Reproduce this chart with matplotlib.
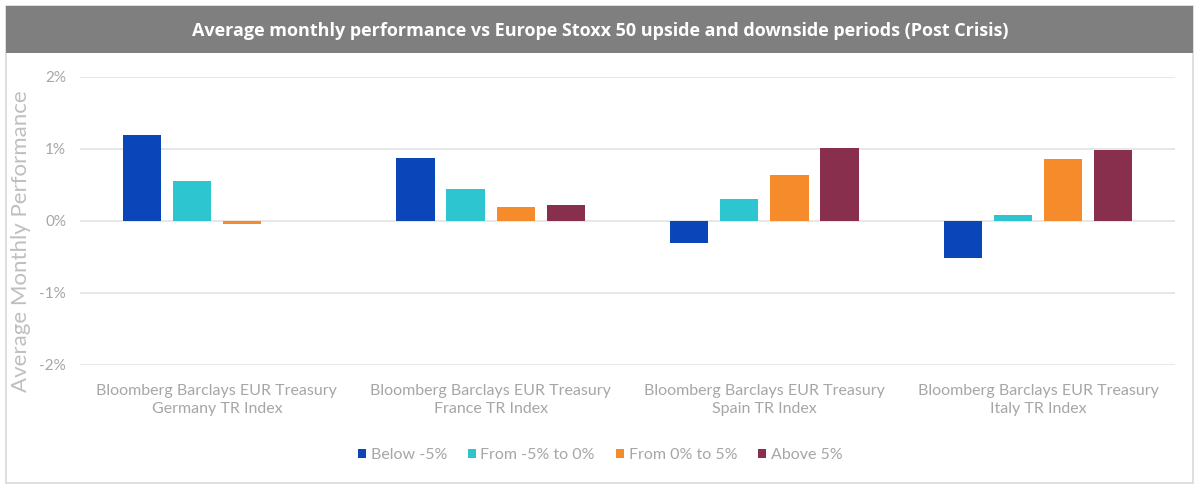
import matplotlib
matplotlib.use("Agg")
import matplotlib.pyplot as plt
import numpy as np
from matplotlib.patches import Rectangle

# datos
categorias = ["Bloomberg Barclays EUR Treasury\nGermany TR Index",
              "Bloomberg Barclays EUR Treasury\nFrance TR Index",
              "Bloomberg Barclays EUR Treasury\nSpain TR Index",
              "Bloomberg Barclays EUR Treasury\nItaly TR Index"]
series = ["Below -5%", "From -5% to 0%", "From 0% to 5%", "Above 5%"]
below_5 = [1.20, 0.88, -0.30, -0.51]
from_m5_0 = [0.55, 0.44, 0.30, 0.08]
from_0_5 = [-0.04, 0.20, 0.64, 0.86]
above_5 = [0.0, 0.22, 1.02, 0.98]
yticks = [-2, -1, 0, 1, 2]

colores = ["#0A46B9", "#2DC6D0", "#F68B2B", "#872F4C"]
gris = "#A6A6A6"

fig = plt.figure(figsize=(12, 4.92), dpi=100)

# marco exterior y barra de titulo
fig.patches.append(Rectangle((6/1200, 1-483/492), 1187/1200, 477/492, transform=fig.transFigure,
                             fill=False, edgecolor="#D9D9D9", linewidth=1.2))
fig.patches.append(Rectangle((6/1200, 1-53/492), 1187/1200, 47/492, transform=fig.transFigure,
                             facecolor="#7F7F7F", edgecolor="none"))
fig.text(0.5, 1-31/492, "Average monthly performance vs Europe Stoxx 50 upside and downside periods (Post Crisis)",
         ha="center", va="center", color="white", fontsize=13, fontweight="bold", family="Open Sans")

ax = fig.add_axes([80/1200, 1-365/492, 1095/1200, 288/492])

x = np.arange(len(categorias))
paso = 0.183
ancho = 0.14
for i, (nombre, valores) in enumerate(zip(series, [below_5, from_m5_0, from_0_5, above_5])):
    ax.bar(x + (i - 1.5) * paso, valores, width=ancho, color=colores[i], label=nombre, zorder=3)

ax.set_xlim(-0.5, 3.5)
ax.set_ylim(-2, 2)
ax.set_yticks(yticks)
ax.set_yticklabels([f"{v}%" for v in yticks], color=gris, fontsize=11, family="Lato")
ax.set_xticks(x)
ax.set_xticklabels(categorias, color=gris, fontsize=11.5, family="Lato", linespacing=1.3)
ax.tick_params(length=0, axis="both")
ax.tick_params(axis="x", pad=14)
ax.tick_params(axis="y", pad=10)
ax.grid(axis="y", color="#E3E3E3", linewidth=1.2, zorder=0)
for s in ax.spines.values():
    s.set_visible(False)

ax.set_ylabel("Average Monthly Performance", color="#BFBFBF", fontsize=16, family="Lato")
ax.yaxis.set_label_coords(-0.045, 0.43)

ax.legend(loc="center", bbox_to_anchor=(0.5, 1-455/492), bbox_transform=fig.transFigure,
          ncol=4, frameon=False, handlelength=0.5, handleheight=0.5, handletextpad=0.3,
          columnspacing=1.3, prop={"family": "Lato", "size": 11.5}, labelcolor=gris)

fig.savefig("out.png", dpi=100)
